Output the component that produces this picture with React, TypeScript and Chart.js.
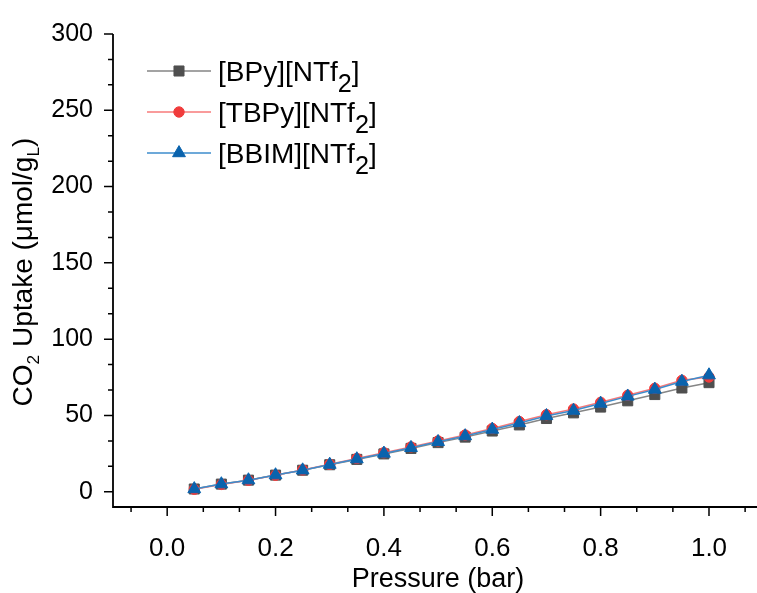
import React, { useEffect, useRef } from "react";
import { Chart, registerables } from "chart.js";

Chart.register(...registerables);

// ---- data ----
const pressure = [0.05, 0.1, 0.15, 0.2, 0.25, 0.3, 0.35, 0.4, 0.45, 0.5, 0.55, 0.6, 0.65, 0.7, 0.75, 0.8, 0.85, 0.9, 0.95, 1.0];
const bpyUptake = [1.8, 5.0, 7.6, 10.9, 14.1, 17.7, 21.2, 24.8, 28.4, 32.2, 35.8, 39.8, 43.8, 48.0, 51.7, 55.5, 59.6, 63.7, 68.0, 71.5];
const tbpyUptake = [1.6, 4.8, 7.5, 10.8, 14.3, 18.0, 21.8, 25.6, 29.4, 33.3, 37.2, 41.5, 46.0, 50.5, 54.2, 58.6, 63.2, 67.8, 73.0, 75.2];
const bbimUptake = [1.8, 5.0, 7.6, 10.9, 14.1, 17.8, 21.4, 25.1, 28.8, 32.7, 36.5, 40.8, 45.1, 49.7, 53.2, 57.8, 62.5, 67.0, 72.2, 76.4];
const seriesLabels = ["[BPy][NTf₂]", "[TBPy][NTf₂]", "[BBIM][NTf₂]"];
const xTickValues = [0, 0.2, 0.4, 0.6, 0.8, 1.0];
const yTickValues = [0, 50, 100, 150, 200, 250, 300];
const xTitle = "Pressure (bar)";
const yTitle = "CO₂ Uptake (μmol/gₗ)";

// ---- styles ----
const FONT = "'Liberation Sans', Arial, sans-serif";
const markerColors = ["#4f4f4f", "#f03c3c", "#0a63ad"];
const lineColors = ["#858585", "#f77a7a", "#3d8ccc"];
const pointStyles = ["rect", "circle", "triangle"];
const pointRadii = [7.1, 5.2, 7.4];

type Seg = { t: string; sub: boolean };
function parseRich(s: string): Seg[] {
  const segs: Seg[] = [];
  for (const ch of s) {
    let sub = false;
    let c = ch;
    if (ch === "₂") { sub = true; c = "2"; }
    else if (ch === "ₗ") { sub = true; c = "L"; }
    const last = segs[segs.length - 1];
    if (last && last.sub === sub) last.t += c;
    else segs.push({ t: c, sub });
  }
  return segs;
}

function drawRich(ctx: CanvasRenderingContext2D, text: string, x: number, y: number, size: number, subScale: number, subShift: number, align: "left" | "center") {
  const segs = parseRich(text);
  const widths = segs.map((s) => {
    ctx.font = `${s.sub ? size * subScale : size}px ${FONT}`;
    return ctx.measureText(s.t).width;
  });
  const total = widths.reduce((a, b) => a + b, 0);
  let cx = align === "center" ? x - total / 2 : x;
  ctx.textBaseline = "alphabetic";
  ctx.textAlign = "left";
  segs.forEach((s, i) => {
    ctx.font = `${s.sub ? size * subScale : size}px ${FONT}`;
    ctx.fillText(s.t, cx, y + (s.sub ? subShift : 0));
    cx += widths[i];
  });
}

function drawMarker(ctx: CanvasRenderingContext2D, style: string, r: number, x: number, y: number) {
  ctx.beginPath();
  if (style === "rect") {
    const s = r * Math.SQRT1_2;
    ctx.rect(x - s, y - s, 2 * s, 2 * s);
  } else if (style === "circle") {
    ctx.arc(x, y, r, 0, Math.PI * 2);
  } else {
    let rad = 0;
    ctx.moveTo(x + Math.sin(rad) * r, y - Math.cos(rad) * r);
    rad += (2 * Math.PI) / 3;
    ctx.lineTo(x + Math.sin(rad) * r, y - Math.cos(rad) * r);
    rad += (2 * Math.PI) / 3;
    ctx.lineTo(x + Math.sin(rad) * r, y - Math.cos(rad) * r);
    ctx.closePath();
  }
  ctx.fill();
  ctx.stroke();
}

const customPlugin = {
  id: "customAxes",
  afterDraw(chart: any) {
    const { ctx, chartArea: ca, scales } = chart;
    const xs = scales.x;
    const ys = scales.y;
    ctx.save();
    ctx.strokeStyle = "#000";
    ctx.fillStyle = "#000";
    // axis lines
    ctx.lineWidth = 1.8;
    ctx.beginPath();
    ctx.moveTo(ca.left, ca.top);
    ctx.lineTo(ca.left, ca.bottom);
    ctx.lineTo(ca.right, ca.bottom);
    ctx.stroke();
    // ticks (major + minor)
    ctx.lineWidth = 1.5;
    ctx.beginPath();
    for (let i = 0; i <= 18; i++) {
      const py = ys.getPixelForValue((i * 50) / 3);
      const len = i % 3 === 0 ? 9 : 5;
      ctx.moveTo(ca.left - len, py);
      ctx.lineTo(ca.left, py);
    }
    for (let i = -1; i <= 17; i++) {
      const px = xs.getPixelForValue((i * 0.2) / 3);
      if (px < ca.left || px > ca.right) continue;
      const len = i % 3 === 0 ? 9 : 5;
      ctx.moveTo(px, ca.bottom);
      ctx.lineTo(px, ca.bottom + len);
    }
    ctx.stroke();

    // x title
    drawRich(ctx, xTitle, 438, 587, 27, 0.6, 6, "center");
    // y title
    ctx.save();
    ctx.translate(32, 272);
    ctx.rotate(-Math.PI / 2);
    drawRich(ctx, yTitle, 0, 0, 28, 0.62, 7, "center");
    ctx.restore();

    // legend
    chart.data.datasets.forEach((ds: any, i: number) => {
      const ly = 71 + i * 41;
      ctx.strokeStyle = lineColors[i];
      ctx.lineWidth = 1.5;
      ctx.beginPath();
      ctx.moveTo(147, ly);
      ctx.lineTo(211, ly);
      ctx.stroke();
      ctx.fillStyle = markerColors[i];
      ctx.strokeStyle = markerColors[i];
      ctx.lineWidth = 1;
      drawMarker(ctx, pointStyles[i], pointRadii[i], 179, ly);
      ctx.fillStyle = "#000";
      drawRich(ctx, ds.label, 218, ly + 10, 28, 0.9, 11, "left");
    });
    ctx.restore();
  },
};

export default function App() {
  const canvasRef = useRef<HTMLCanvasElement | null>(null);

  useEffect(() => {
    if (!canvasRef.current) return;
    const seriesData = [bpyUptake, tbpyUptake, bbimUptake];
    const chart = new Chart(canvasRef.current, {
      type: "line",
      data: {
        datasets: seriesData.map((vals, i) => ({
          label: seriesLabels[i],
          data: pressure.map((p, j) => ({ x: p, y: vals[j] })),
          borderColor: lineColors[i],
          borderWidth: 1.5,
          backgroundColor: markerColors[i],
          pointBackgroundColor: markerColors[i],
          pointBorderColor: markerColors[i],
          pointBorderWidth: 1,
          pointStyle: pointStyles[i] as any,
          pointRadius: pointRadii[i],
          tension: 0,
          order: 2 - i,
        })),
      },
      options: {
        animation: false,
        responsive: false,
        devicePixelRatio: 1,
        layout: { autoPadding: false, padding: { top: 34, left: 0, right: 0, bottom: 0 } },
        plugins: {
          legend: { display: false },
          tooltip: { enabled: false },
        },
        events: [],
        scales: {
          x: {
            type: "linear",
            min: -0.1,
            max: 1.0886,
            grid: { display: false, drawTicks: false },
            border: { display: false },
            ticks: {
              color: "#000",
              font: { family: FONT, size: 26 },
              padding: 26,
              maxRotation: 0,
              callback: (v: any) => Number(v).toFixed(1),
            },
            afterBuildTicks: (scale: any) => {
              scale.ticks = xTickValues.map((v) => ({ value: v }));
            },
            afterFit: (scale: any) => {
              scale.height = 86;
              scale.paddingLeft = 0;
              scale.paddingRight = 0;
            },
          },
          y: {
            type: "linear",
            min: -10,
            max: 300,
            grid: { display: false, drawTicks: false },
            border: { display: false },
            ticks: {
              color: "#000",
              font: { family: FONT, size: 25 },
              padding: 20,
              callback: (v: any) => String(v),
            },
            afterBuildTicks: (scale: any) => {
              scale.ticks = yTickValues.map((v) => ({ value: v }));
            },
            afterFit: (scale: any) => {
              scale.width = 113;
              scale.paddingTop = 0;
              scale.paddingBottom = 0;
            },
          },
        },
      },
      plugins: [customPlugin],
    });
    return () => chart.destroy();
  }, []);

  return (
    <div style={{ position: "fixed", left: 0, top: 0, width: 757, height: 593, background: "#fff" }}>
      <canvas ref={canvasRef} width={757} height={593} style={{ width: 757, height: 593 }} />
    </div>
  );
}
